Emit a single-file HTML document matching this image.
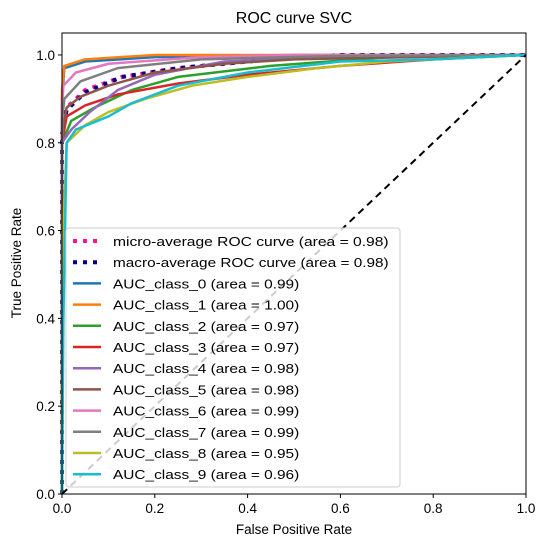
<!DOCTYPE html>
<html><head><meta charset="utf-8"><style>
body{margin:0;background:#fff;font-family:"Liberation Sans","DejaVu Sans",sans-serif}
</style></head><body>
<svg id="chart" width="547" height="547" xmlns="http://www.w3.org/2000/svg" font-family="Liberation Sans, DejaVu Sans, sans-serif">
<rect width="547" height="547" fill="#fff"/>
<g id="plot"></g>
</svg>
<script>
const xTicks=[0,0.2,0.4,0.6,0.8,1.0];
const yTicks=[0,0.2,0.4,0.6,0.8,1.0];
const tickLabels=["0.0","0.2","0.4","0.6","0.8","1.0"];
const seriesNames=["micro-average ROC curve (area = 0.98)","macro-average ROC curve (area = 0.98)","AUC_class_0 (area = 0.99)","AUC_class_1 (area = 1.00)","AUC_class_2 (area = 0.97)","AUC_class_3 (area = 0.97)","AUC_class_4 (area = 0.98)","AUC_class_5 (area = 0.98)","AUC_class_6 (area = 0.99)","AUC_class_7 (area = 0.99)","AUC_class_8 (area = 0.95)","AUC_class_9 (area = 0.96)"];
const microFpr=[0,0,0.01,0.05,0.13,0.25,0.45,0.6,1];
const microTpr=[0,0.82,0.88,0.92,0.95,0.97,0.99,1.0,1.0];
const macroFpr=[0,0,0.01,0.05,0.13,0.25,0.45,0.6,1];
const macroTpr=[0,0.82,0.875,0.915,0.95,0.97,0.99,1.0,1.0];
const c0Fpr=[0,0,0.005,0.05,0.2,0.5,1];const c0Tpr=[0,0.9,0.97,0.985,0.995,1,1];
const c1Fpr=[0,0,0.005,0.05,0.2,1];const c1Tpr=[0,0.92,0.975,0.99,1,1];
const c2Fpr=[0,0,0.02,0.07,0.15,0.25,0.45,0.7,1];const c2Tpr=[0,0.8,0.85,0.88,0.92,0.95,0.975,0.995,1];
const c3Fpr=[0,0,0.01,0.05,0.12,0.25,0.4,0.6,0.8,1];const c3Tpr=[0,0.8,0.86,0.885,0.91,0.935,0.955,0.975,0.99,1];
const c4Fpr=[0,0,0.02,0.06,0.12,0.2,0.35,0.6,1];const c4Tpr=[0,0.8,0.83,0.87,0.92,0.955,0.985,0.995,1];
const c5Fpr=[0,0,0.01,0.04,0.1,0.2,0.35,0.5,1];const c5Tpr=[0,0.82,0.88,0.905,0.93,0.96,0.98,0.99,1];
const c6Fpr=[0,0,0.003,0.03,0.1,0.3,0.5,1];const c6Tpr=[0,0.88,0.93,0.96,0.98,0.995,1,1];
const c7Fpr=[0,0,0.005,0.04,0.12,0.3,0.6,1];const c7Tpr=[0,0.85,0.9,0.94,0.97,0.99,0.998,1];
const c8Fpr=[0,0.003,0.01,0.05,0.1,0.18,0.28,0.4,0.55,0.7,1];const c8Tpr=[0,0.6,0.8,0.84,0.87,0.9,0.93,0.95,0.97,0.985,1];
const c9Fpr=[0,0.003,0.01,0.03,0.1,0.15,0.25,0.4,0.6,0.8,1];const c9Tpr=[0,0.4,0.8,0.83,0.86,0.89,0.93,0.96,0.985,0.99,1];
const colors=["deeppink","navy","#1f77b4","#ff7f0e","#2ca02c","#d62728","#9467bd","#8c564b","#e377c2","#7f7f7f","#bcbd22","#17becf"];
const fprs=[microFpr,macroFpr,c0Fpr,c1Fpr,c2Fpr,c3Fpr,c4Fpr,c5Fpr,c6Fpr,c7Fpr,c8Fpr,c9Fpr];
const tprs=[microTpr,macroTpr,c0Tpr,c1Tpr,c2Tpr,c3Tpr,c4Tpr,c5Tpr,c6Tpr,c7Tpr,c8Tpr,c9Tpr];
const L=62,R=526,B=494,T=33;
function sx(v){return L+(R-L)*v;}
function sy(v){return B-(B-T)*v/1.05;}
const NS="http://www.w3.org/2000/svg";
const g=document.getElementById('plot');
function mk(tag,attrs,text){const e=document.createElementNS(NS,tag);for(const k in attrs)e.setAttribute(k,attrs[k]);if(text!=null)e.textContent=text;g.appendChild(e);return e;}
const order=[0,1,2,3,4,5,6,7,8,9,10,11];
order.forEach(i=>{
  const pts=fprs[i].map((f,j)=>sx(f)+','+sy(tprs[i][j])).join(' ');
  const a={points:pts,fill:'none',stroke:colors[i],'stroke-width':i<2?4:2.5,'stroke-linejoin':'round'};
  if(i<2)a['stroke-dasharray']='4,6';
  const e=mk('polyline',a);
  
  
});
const diag=mk('line',{x1:sx(0),y1:sy(0),x2:sx(1),y2:sy(1),stroke:'#000','stroke-width':2,'stroke-dasharray':'7,5'});


const fr=mk('rect',{x:L,y:T,width:R-L,height:B-T,fill:'none',stroke:'#000','stroke-width':1});


xTicks.forEach((v,i)=>{
  mk('line',{x1:sx(v),y1:B,x2:sx(v),y2:B+4,stroke:'#000'});
  const t=mk('text',{x:sx(v),y:B+19,'text-anchor':'middle','font-size':13.5},tickLabels[i]);
  
  
});
yTicks.forEach((v,i)=>{
  mk('line',{x1:L-4,y1:sy(v),x2:L,y2:sy(v),stroke:'#000'});
  const t=mk('text',{x:L-7,y:sy(v)+5,'text-anchor':'end','font-size':13.5},tickLabels[i]);
  
  
});
const ti=mk('text',{x:294,y:23,'text-anchor':'middle','font-size':16},'ROC curve SVC');


const xl=mk('text',{x:294,y:534,'text-anchor':'middle','font-size':13.5},'False Positive Rate');


const yl=mk('text',{x:21,y:263,'text-anchor':'middle','font-size':13.5,transform:'rotate(-90 21 263)'},'True Positive Rate');


const lg=mk('rect',{x:66,y:228,width:334,height:259,rx:3,fill:'#fff','fill-opacity':0.8,stroke:'#ccc'});


seriesNames.forEach((n,i)=>{
  const y=241+i*21.2;
  const a={x1:73,y1:y,x2:101,y2:y,stroke:colors[i],'stroke-width':i<2?4:2.5};
  if(i<2)a['stroke-dasharray']='4,6';
  mk('line',a);
  const t=mk('text',{x:113,y:y+5,'font-size':13,textLength:n.length*7.45,lengthAdjust:'spacingAndGlyphs'},n);
  
  
});
</script>
</body></html>
